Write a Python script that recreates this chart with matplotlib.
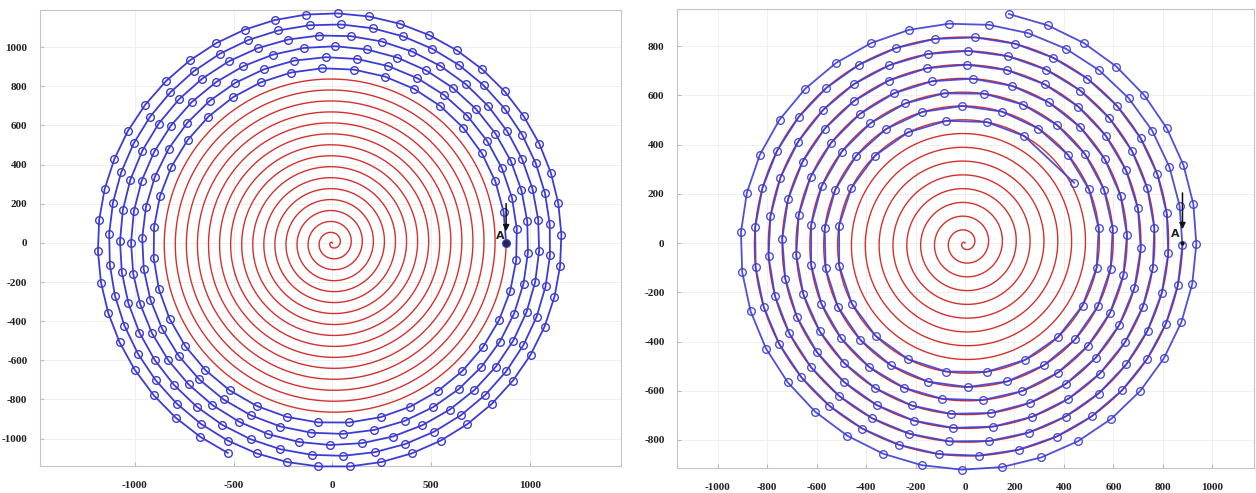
import numpy as np
import matplotlib.pyplot as plt

plt.rcParams['axes.unicode_minus'] = False

# spiral (units of the axes)
pitch = 56.0            # gap between neighbouring turns
r_A = 879.0             # red spiral ends at A, on the positive x axis
point_A = (879.0, 0.0)

left_blue_turns = (0.0, 5.677)     # blue path, turns counted from A
left_blue_step = 160.0             # arc length between markers
right_blue_turns = (-6.83, 1.22)
right_blue_step = 163.0
right_blue_start = (441.0, 245.0)  # first marker, off the spiral

left_xticks = [-1000, -500, 0, 500, 1000]
left_yticks = list(range(-1000, 1001, 200))
right_xticks = list(range(-1000, 1001, 200))
right_yticks = list(range(-800, 801, 200))

RED = '#d4312e'
BLUE = '#3c3cd4'


def spiral(t):
    r = r_A + pitch * t
    a = 2 * np.pi * t
    return r * np.cos(a), r * np.sin(a)


def sampled(t0, t1, step):
    t = np.linspace(t0, t1, 40000)
    x, y = spiral(t)
    s = np.concatenate([[0], np.cumsum(np.hypot(np.diff(x), np.diff(y)))])
    n = int(round(s[-1] / step))
    ti = np.interp(np.linspace(0, s[-1], n + 1), s, t)
    return spiral(ti)


def style(ax, xt, yt, xl, yl):
    ax.set_xlim(*xl)
    ax.set_ylim(*yl)
    ax.set_xticks(xt)
    ax.set_yticks(yt)
    ax.grid(True, color='#ededed', lw=0.6, zorder=0)
    for sp in ax.spines.values():
        sp.set_color('#c4c4c4')
    ax.tick_params(direction='in', length=3, color='#bbbbbb')
    ax.tick_params(axis='y', pad=9)
    ax.tick_params(axis='x', pad=11)
    for lab in ax.get_xticklabels() + ax.get_yticklabels():
        lab.set_family('Liberation Serif')
        lab.set_weight('bold')
        lab.set_fontsize(8)
        lab.set_color('#222222')


def mark_A(ax, filled):
    ax.annotate('', xy=(point_A[0], 45), xytext=(point_A[0], 215),
                arrowprops=dict(arrowstyle='-|>', color='#111111', lw=1.1,
                                mutation_scale=9), zorder=6)
    ax.text(point_A[0] - 28, 35, 'A', fontsize=8, fontweight='bold',
            color='#222222', ha='center', va='center', zorder=6)
    if filled:
        ax.plot(*point_A, 'o', ms=4, color='#23235a', zorder=6)
    else:
        ax.plot(*point_A, 'o', ms=2, color='#111111', zorder=6)


fig = plt.figure(figsize=(12.56, 4.93), dpi=100)
ax1 = fig.add_axes([0.0318, 0.0548, 0.4626, 0.925])
ax2 = fig.add_axes([0.539, 0.0507, 0.4594, 0.931])

tr = np.linspace(-r_A / pitch, 0, 6000)
rx, ry = spiral(tr)

# left: red spiral, blue path continues outward from A
ax1.plot(rx, ry, color=RED, lw=1.0, zorder=2)
bx, by = sampled(*left_blue_turns, left_blue_step)
ax1.plot(bx, by, '-o', color=BLUE, lw=1.3, ms=5.5, mfc='none', mew=1.0,
         zorder=3, clip_on=False)
mark_A(ax1, True)
style(ax1, left_xticks, left_yticks, (-1480, 1460), (-1140, 1190))

# right: blue path laid over the outer part of the red spiral
ax2.plot(rx, ry, color=RED, lw=1.0, zorder=2)
bx, by = sampled(*right_blue_turns, right_blue_step)
bx = np.concatenate([[right_blue_start[0]], bx])
by = np.concatenate([[right_blue_start[1]], by])
ax2.plot(bx, by, '-o', color=BLUE, lw=1.3, ms=5.5, mfc='none', mew=1.0,
         alpha=0.9, zorder=3, clip_on=False)
mark_A(ax2, False)
style(ax2, right_xticks, right_yticks, (-1164, 1168), (-914, 951))

fig.savefig('out.png', dpi=100)
